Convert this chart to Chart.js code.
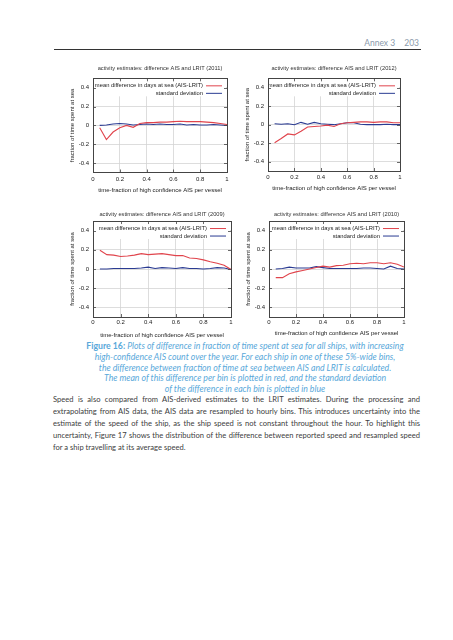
<!DOCTYPE html>
<html>
<head>
<meta charset="utf-8">
<script src="https://cdn.jsdelivr.net/npm/chart.js@4.4.1/dist/chart.umd.min.js"></script>
<style>
  html, body { margin: 0; padding: 0; background: #fff; }
  body { width: 453px; height: 640px; position: relative; overflow: hidden; font-family: Lato, "Open Sans", sans-serif; }
  canvas { position: absolute; }
  .head { position: absolute; right: 34px; top: 38px; font-size: 8.5px; color: #8b9aab; }
  .head span { margin-left: 9px; }
  .rule { position: absolute; left: 54px; top: 49px; width: 367px; height: 1px; background: #333; }
  .caption { position: absolute; left: 56px; width: 378px; top: 341px; text-align: center; font-size: 8.7px; line-height: 10.8px; color: #58a8da; font-style: italic; }
  .caption b { font-style: normal; font-weight: bold; }
  .body { position: absolute; left: 53px; top: 394px; width: 367px; font-size: 10px; line-height: 12.1px; color: #404040; }
  .body div { white-space: nowrap; }
</style>
</head>
<body>
<div class="head">Annex 3<span>203</span></div>
<div class="rule"></div>

<canvas id="c2011" width="196" height="133" style="left:62px;top:63px"></canvas>
<canvas id="c2012" width="194" height="130" style="left:237px;top:63px"></canvas>
<canvas id="c2009" width="200" height="132" style="left:62px;top:208px"></canvas>
<canvas id="c2010" width="197" height="130" style="left:238px;top:208px"></canvas>

<div class="caption">
  <b>Figure 16:</b> Plots of difference in fraction of time spent at sea for all ships, with increasing<br>
  high-confidence AIS count over the year. For each ship in one of these 5%-wide bins,<br>
  the difference between fraction of time at sea between AIS and LRIT is calculated.<br>
  The mean of this difference per bin is plotted in red, and the standard deviation<br>
  of the difference in each bin is plotted in blue
</div>

<div class="body">
  <div class="fill">Speed is also compared from AIS-derived estimates to the LRIT estimates. During the processing and</div>
  <div class="fill">extrapolating from AIS data, the AIS data are resampled to hourly bins. This introduces uncertainty into the</div>
  <div class="fill">estimate of the speed of the ship, as the ship speed is not constant throughout the hour. To highlight this</div>
  <div class="fill">uncertainty, Figure 17 shows the distribution of the difference between reported speed and resampled speed</div>
  <div>for a ship travelling at its average speed.</div>
</div>

<script>
// 5%-wide bins of high confidence AIS
const binX = [0.05, 0.10, 0.15, 0.20, 0.25, 0.30, 0.35, 0.40, 0.45, 0.50,
              0.55, 0.60, 0.65, 0.70, 0.75, 0.80, 0.85, 0.90, 0.95, 1.00];

// mean difference in days at sea (AIS-LRIT)
const mean2011 = [-0.025, -0.15, -0.07, -0.025, 0.0, -0.02, 0.02, 0.03, 0.03, 0.035,
                  0.035, 0.04, 0.045, 0.04, 0.04, 0.04, 0.035, 0.03, 0.02, 0.01];
const mean2012 = [-0.195, -0.15, -0.1, -0.11, -0.07, -0.025, -0.02, -0.015, -0.005, -0.02,
                  0.01, 0.02, 0.025, 0.03, 0.03, 0.025, 0.03, 0.03, 0.02, 0.02];
const mean2009 = [0.195, 0.15, 0.145, 0.13, 0.135, 0.145, 0.16, 0.15, 0.155, 0.16,
                  0.15, 0.14, 0.14, 0.115, 0.11, 0.095, 0.075, 0.06, 0.04, -0.005];
const mean2010 = [-0.09, -0.09, -0.05, -0.03, -0.015, 0.0, 0.015, 0.03, 0.02, 0.035,
                  0.04, 0.055, 0.06, 0.055, 0.065, 0.065, 0.055, 0.065, 0.05, 0.02];

// standard deviation
const std2011 = [0.0, 0.005, 0.015, 0.02, 0.015, 0.005, 0.01, 0.015, 0.01, 0.015,
                 0.01, 0.01, 0.015, 0.005, 0.01, 0.005, 0.005, 0.01, 0.005, 0.0];
const std2012 = [0.01, 0.005, 0.01, 0.0, 0.025, 0.005, 0.025, 0.01, 0.005, 0.0,
                 0.01, 0.02, 0.02, 0.005, 0.0, 0.0, 0.0, 0.005, 0.0, 0.0];
const std2009 = [0.0, 0.0, 0.005, 0.005, 0.005, 0.005, 0.01, 0.02, 0.005, 0.015,
                 0.01, 0.005, 0.015, 0.005, 0.005, 0.0, 0.005, 0.015, 0.01, -0.005];
const std2010 = [0.0, 0.005, 0.02, 0.01, 0.01, 0.01, 0.025, 0.015, 0.005, 0.005,
                 0.005, 0.005, 0.005, 0.01, 0.01, 0.005, 0.0, 0.03, 0.005, 0.0];

// tick labels
const xTicks = [0, 0.2, 0.4, 0.6, 0.8, 1];
const yTicks = [-0.4, -0.2, 0, 0.2, 0.4];

const seriesNames = ["mean difference in days at sea (AIS-LRIT)", "standard deviation"];
const titleText = "activity estimates: difference AIS and LRIT";
const xTitle = "time-fraction of high confidence AIS per vessel";
const yTitle = "fraction of time spent at sea";

const RED = "#e0444c";
const BLUE = "#2a3b92";
const GRID = "#d4d4d4";
const FONT = "'Liberation Sans', Arial, sans-serif";

// gnuplot look: framed box, inward tics and the key in the top corner
const gnuplotFrame = {
	id: "gnuplotFrame",
	afterDatasetsDraw(chart) {
		const { ctx, chartArea: a } = chart;
		ctx.save();
		// key
		ctx.fillStyle = "#fff";
		ctx.fillRect(a.left + 1, a.top + 1, a.right - a.left - 2, 17);
		ctx.font = "5.8px " + FONT;
		ctx.fillStyle = "#222";
		ctx.textAlign = "right";
		ctx.textBaseline = "middle";
		chart.data.datasets.forEach((ds, i) => {
			const y = a.top + 7.5 + i * 7.5;
			ctx.fillText(ds.label, a.right - 24, y);
			ctx.strokeStyle = ds.borderColor;
			ctx.lineWidth = 1;
			ctx.beginPath();
			ctx.moveTo(a.right - 21, y);
			ctx.lineTo(a.right - 5, y);
			ctx.stroke();
		});
		// tics
		ctx.strokeStyle = "#444";
		ctx.lineWidth = 0.8;
		const xs = chart.scales.x, ys = chart.scales.y;
		ctx.beginPath();
		xTicks.forEach(v => {
			const px = Math.round(xs.getPixelForValue(v)) + 0.5;
			ctx.moveTo(px, a.bottom); ctx.lineTo(px, a.bottom - 3);
			ctx.moveTo(px, a.top); ctx.lineTo(px, a.top + 3);
		});
		yTicks.forEach(v => {
			const py = Math.round(ys.getPixelForValue(v)) + 0.5;
			ctx.moveTo(a.left, py); ctx.lineTo(a.left + 3, py);
			ctx.moveTo(a.right, py); ctx.lineTo(a.right - 3, py);
		});
		ctx.stroke();
		// border
		ctx.strokeStyle = "#444";
		ctx.lineWidth = 1;
		ctx.strokeRect(Math.round(a.left) + 0.5, Math.round(a.top) + 0.5,
			Math.round(a.right - a.left), Math.round(a.bottom - a.top));
		ctx.restore();
	},
};

function panel(id, year, mean, std, box) {
	const small = { family: FONT, size: 6 };
	return new Chart(document.getElementById(id), {
		type: "line",
		data: {
			datasets: [
				{
					label: seriesNames[0],
					data: binX.map((x, i) => ({ x: x, y: mean[i] })),
					borderColor: RED,
					borderWidth: 1.1,
					pointRadius: 0,
				},
				{
					label: seriesNames[1],
					data: binX.map((x, i) => ({ x: x, y: std[i] })),
					borderColor: BLUE,
					borderWidth: 1.1,
					pointRadius: 0,
				},
			],
		},
		options: {
			responsive: false,
			animation: false,
			events: [],
			layout: { padding: { left: 0, right: box.right, top: 0, bottom: 0 } },
			plugins: {
				legend: { display: false },
				tooltip: { enabled: false },
				title: {
					display: true,
					fullSize: false,
					text: titleText + " (" + year + ")",
					color: "#333",
					font: { family: FONT, size: 5.7, weight: "normal" },
					padding: { top: box.tTop, bottom: box.tBottom },
				},
			},
			scales: {
				x: {
					type: "linear",
					min: 0,
					max: 1,
					afterBuildTicks: (s) => { s.ticks = xTicks.map(v => ({ value: v })); },
					afterFit: (s) => { s.height = box.xh; },
					grid: { color: GRID, lineWidth: 0.8, drawTicks: false },
					border: { display: false },
					ticks: { padding: box.xPad, color: "#222", font: small, maxRotation: 0,
						callback: (v) => String(Math.round(v * 10) / 10) },
					title: { display: true, text: xTitle, color: "#222", font: small,
						padding: { top: 0, bottom: box.xtPad } },
				},
				y: {
					min: -0.5,
					max: 0.5,
					afterBuildTicks: (s) => { s.ticks = yTicks.map(v => ({ value: v })); },
					afterFit: (s) => { s.width = 31; },
					grid: { color: GRID, lineWidth: 0.8, drawTicks: false },
					border: { display: false },
					ticks: { padding: 4, color: "#222", font: small,
						callback: (v) => String(Math.round(v * 10) / 10) },
					title: { display: true, text: yTitle, color: "#222", font: small,
						padding: { top: box.ytPad, bottom: 0 } },
				},
			},
		},
		plugins: [gnuplotFrame],
	});
}

panel("c2011", 2011, mean2011, std2011, { right: 31, tTop: 2.2, tBottom: 6.3, xh: 23.5, xPad: 3.2, xtPad: 2.1, ytPad: 6.4 });
panel("c2012", 2012, mean2012, std2012, { right: 31, tTop: 2.2, tBottom: 6.3, xh: 22, xPad: 2.7, xtPad: 1.1, ytPad: 6.4 });
panel("c2009", 2009, mean2009, std2009, { right: 31, tTop: 2.6, tBottom: 3.6, xh: 23, xPad: 2.1, xtPad: 1.4, ytPad: 6.4 });
panel("c2010", 2010, mean2010, std2010, { right: 31, tTop: 2.6, tBottom: 3.6, xh: 21, xPad: 1.4, xtPad: 1.4, ytPad: 6.4 });

// body paragraph: pick a font size so the longest line fits, then justify by word spacing
const bodyBox = document.querySelector(".body");
const target = bodyBox.clientWidth;
const rows = Array.from(bodyBox.children).map(el => {
	const span = document.createElement("span");
	span.textContent = el.textContent.trim();
	el.textContent = "";
	el.appendChild(span);
	return { el, span };
});
let widest = 0;
rows.forEach(r => { widest = Math.max(widest, r.span.getBoundingClientRect().width); });
bodyBox.style.fontSize = (10 * target / widest * 0.985) + "px";
rows.forEach(r => {
	if (!r.el.classList.contains("fill")) return;
	const natural = r.span.getBoundingClientRect().width;
	const gaps = (r.span.textContent.match(/ /g) || []).length;
	if (gaps) r.span.style.wordSpacing = ((target - natural) / gaps) + "px";
});
</script>
</body>
</html>
